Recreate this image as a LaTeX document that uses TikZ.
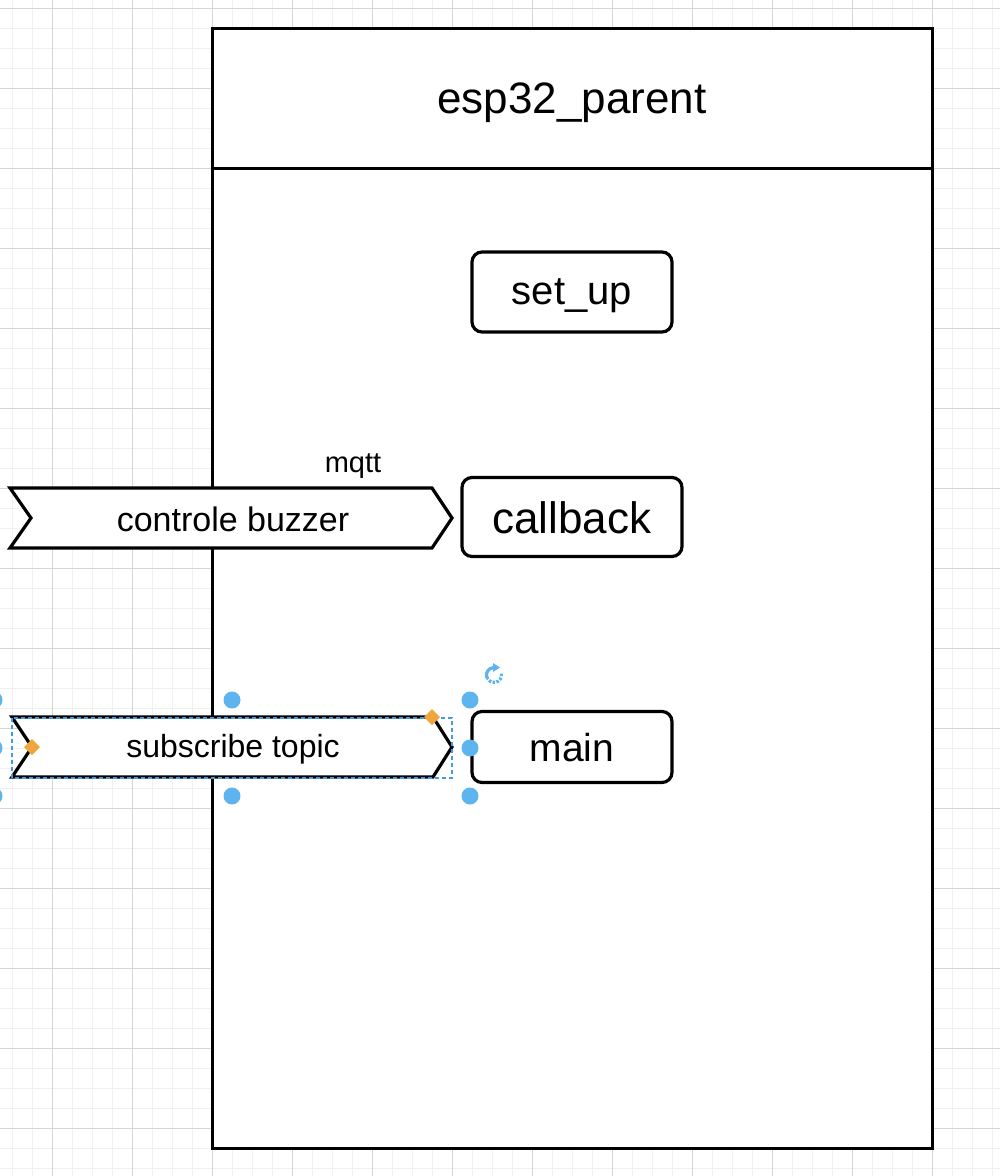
\documentclass[tikz,border=0pt]{standalone}
\usepackage{fontspec}
\setmainfont{Liberation Sans}
\usetikzlibrary{arrows.meta}
\definecolor{gridminor}{HTML}{F0F0F0}
\definecolor{gridmajor}{HTML}{D6D6D6}
\definecolor{selblue}{HTML}{5DB4EE}
\definecolor{dashblue}{HTML}{3D9BE9}
\definecolor{handleorange}{HTML}{F0A63C}
\tikzset{
  minorline/.style={draw=gridminor, line width=1pt},
  majorline/.style={draw=gridmajor, line width=1pt},
  containerbox/.style={draw=black, fill=white, line width=3pt, inner sep=0pt},
  funcbox/.style={draw=black, fill=white, line width=3.2pt, rounded corners=10pt, inner sep=0pt},
  stepshape/.style={draw=black, fill=white, line width=3.2pt, line join=miter},
  lbl/.style={anchor=base, inner sep=0pt, text=black},
  handle/.style={fill=selblue, draw=none, circle, minimum size=17pt, inner sep=0pt},
}
\begin{document}
\begin{tikzpicture}[x=1pt,y=-1pt]
\useasboundingbox (0,0) rectangle (1000,1176);
\fill[white] (0,0) rectangle (1000,1176);
% grid
\foreach \x in {12,32,...,992} \draw[minorline] (\x,0) -- (\x,1176);
\foreach \y in {8,28,...,1168} \draw[minorline] (0,\y) -- (1000,\y);
\foreach \x in {52,132,...,972} \draw[majorline] (\x,0) -- (\x,1176);
\foreach \y in {8,88,...,1168} \draw[majorline] (0,\y) -- (1000,\y);

% container
\node[containerbox, minimum width=720pt, minimum height=1120pt] (parent) at (572,588) {};
\coordinate (hdrL) at (212,168);
\coordinate (hdrR) at (932,168);
\draw[line width=3pt] (hdrL) -- (hdrR);
\node[lbl, font=\fontsize{44}{44}\selectfont] (title) at (572,113) {esp32\_parent};

% function boxes
\node[funcbox, minimum width=200pt, minimum height=80pt] (setup) at (572,292) {};
\node[lbl, font=\fontsize{40}{40}\selectfont] (setuplbl) at (572,304) {set\_up};
\node[funcbox, minimum width=220pt, minimum height=79pt] (callback) at (572,517) {};
\node[lbl, font=\fontsize{44}{44}\selectfont] (callbacklbl) at (572,533) {callback};
\node[funcbox, minimum width=200pt, minimum height=71pt] (mainbox) at (572,747) {};
\node[lbl, font=\fontsize{39}{39}\selectfont] (mainlbl) at (572,761) {main};

% step shapes
\draw[stepshape] (10,488) -- (432,488) -- (452,518) -- (432,548) -- (10,548) -- (31,518) -- cycle;
\node[lbl, font=\fontsize{34}{34}\selectfont] (buzzer) at (233,531) {controle buzzer};
\node[lbl, font=\fontsize{29}{29}\selectfont] (mqtt) at (353,472) {mqtt};

\draw[stepshape] (12,717) -- (433,717) -- (452,747) -- (433,777) -- (12,777) -- (32,747) -- cycle;
\node[lbl, font=\fontsize{32}{32}\selectfont] (subscribe) at (233,757) {subscribe topic};

% selection overlay
\draw[dashblue, line width=1.5pt, dash pattern=on 4pt off 3pt] (12,718) rectangle (452,778);
\foreach \hx/\hy [count=\i] in {-6/700, 232/700, 470/700, -6/748, 470/748, -6/796, 232/796, 470/796}
  \node[handle] (h\i) at (\hx,\hy) {};
\fill[handleorange] (32,739) -- (40,747) -- (32,755) -- (24,747) -- cycle;
\fill[handleorange] (432,709) -- (440,717) -- (432,725) -- (424,717) -- cycle;
\begin{scope}[shift={(494,675)}, yscale=-1]
  \draw[selblue, line width=3.2pt, dash pattern=on 2.5pt off 1.5pt] (10:7.5) arc (10:-150:7.5);
  \draw[selblue, line width=3.2pt] (-150:7.5) arc (-150:-268:7.5);
  \fill[selblue] (-1,12) -- (6,7.5) -- (-1,3) -- cycle;
\end{scope}
\end{tikzpicture}
\end{document}
